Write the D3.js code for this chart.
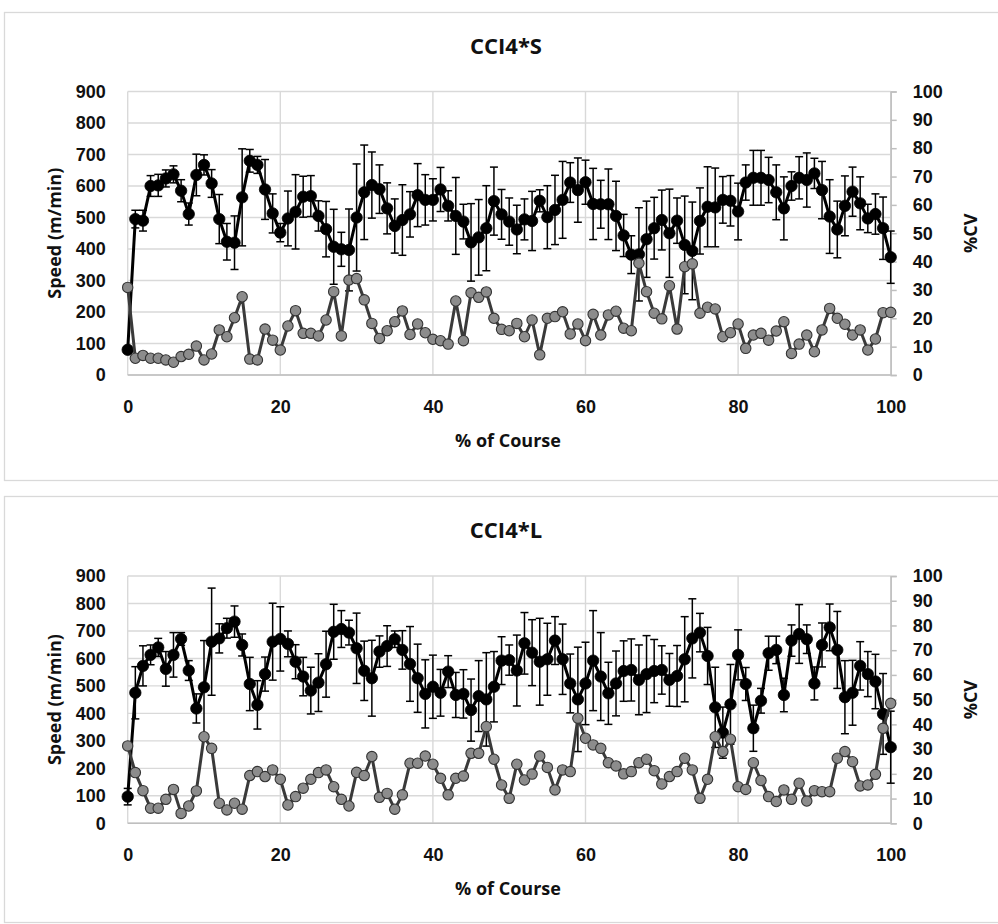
<!DOCTYPE html>
<html>
<head>
<meta charset="utf-8">
<script src="https://cdn.jsdelivr.net/npm/d3@7"></script>
<style>
  body { margin: 0; background: #fff; }
  svg { display: block; font-family: "Open Sans", "Noto Sans", sans-serif; }
  .tick text { font-size: 18px; font-weight: 700; fill: #111; }
  .lbl { font-size: 18px; font-weight: 700; fill: #111; }
  .title { font-size: 22px; font-weight: 700; fill: #111; }
</style>
</head>
<body>
<div id="chart"></div>
<script>
// % of course, one point per percent
const pct = d3.range(0, 101);
const speedTicks = [0, 100, 200, 300, 400, 500, 600, 700, 800, 900];
const cvTicks = [0, 10, 20, 30, 40, 50, 60, 70, 80, 90, 100];
const courseTicks = [0, 20, 40, 60, 80, 100];

// CCI4*S
const shortSpeed = [80,495,490,600,602,624,637,585,511,635,667,608,495,423,420,564,680,667,589,513,
  452,497,518,566,568,505,463,407,399,397,500,580,603,590,529,473,492,510,571,556,
  556,589,537,505,487,421,437,466,552,510,487,462,494,489,553,501,524,556,611,587,
  612,543,542,542,505,443,382,383,431,466,492,450,490,413,394,489,534,532,556,553,
  519,611,626,626,619,580,529,600,626,619,640,587,503,462,537,582,545,497,511,466,374];
const shortErr = [10,28,33,33,35,27,27,35,35,66,32,44,78,58,85,154,36,27,95,62,
  29,87,118,65,65,48,88,119,54,130,170,150,105,77,81,86,112,72,100,80,
  67,70,48,122,55,123,120,135,108,79,75,77,65,94,35,100,110,122,63,102,
  70,113,76,112,110,67,60,148,121,98,95,140,72,155,155,105,127,125,74,80,
  90,56,87,87,72,87,100,45,67,86,48,91,117,90,95,78,84,45,64,99,83];
const shortCV = [30.9,5.9,6.9,5.9,5.9,5.3,4.5,6.5,7.3,10.2,5.3,7.4,15.9,13.5,20.2,27.6,5.6,5.3,16.2,12.3,
  8.8,17.3,22.7,14.7,14.7,13.8,19.4,29.4,13.8,33.5,34.0,26.5,18.2,12.9,15.6,18.8,22.6,14.3,18.0,14.9,
  12.6,12.1,10.9,26.1,12.1,29.0,27.4,29.3,20.0,16.1,15.6,18.2,13.5,19.4,7.1,20.0,20.6,22.3,14.5,18.0,
  12.1,21.4,14.1,21.2,22.5,16.5,15.6,39.4,29.4,21.8,19.8,31.5,16.2,38.2,39.2,21.8,23.9,23.3,13.5,14.9,
  18.0,9.4,14.1,14.7,12.3,15.5,18.8,7.6,10.9,14.1,8.2,15.9,23.5,20.0,17.9,14.1,15.9,8.8,12.7,22.0,22.1];

// CCI4*L
const longSpeed = [97,475,573,613,640,562,613,671,556,418,495,661,673,710,734,649,507,431,543,661,
  671,653,588,534,483,512,579,697,707,694,637,555,528,625,645,670,631,580,528,471,
  497,475,552,467,471,412,463,451,497,592,594,556,655,621,588,597,665,597,509,451,
  509,592,534,473,509,554,558,522,543,554,558,522,536,597,673,694,609,422,330,433,
  613,507,346,446,619,631,467,665,689,670,509,649,713,631,459,475,573,543,516,398,277];
const longErr = [30,95,73,36,33,63,81,23,36,53,170,195,53,36,57,40,97,88,62,140,
  117,47,62,70,85,105,120,100,67,45,128,108,138,57,74,30,70,136,124,124,
  115,85,58,82,88,113,129,170,128,87,55,129,112,120,158,131,87,128,107,190,
  150,182,160,113,118,110,113,127,140,115,88,96,111,155,144,70,104,146,93,145,
  91,60,84,45,62,50,61,57,107,52,60,80,85,140,133,118,88,82,99,147,131];
const longCV = [31.3,20.5,13.2,6.1,6.1,9.7,13.7,4.0,7.0,13.1,35.0,30.3,8.1,5.4,8.1,5.7,19.3,20.9,18.9,21.6,
  17.8,7.4,10.8,14.2,17.8,20.5,21.6,14.8,9.7,7.0,20.6,19.3,27.0,10.5,12.1,5.7,11.5,24.3,24.3,27.2,
  23.9,18.2,11.5,18.2,19.1,28.3,28.3,39.1,25.9,15.5,10.1,23.9,17.5,19.9,27.2,22.6,13.5,21.6,20.9,42.5,
  34.4,31.7,30.3,24.5,23.2,20.0,20.9,24.5,25.9,21.3,15.9,18.9,20.9,26.3,21.6,10.1,17.8,35.0,29.0,34.0,
  14.8,13.7,24.5,17.3,10.8,8.8,13.5,9.7,16.2,9.0,13.2,12.8,12.8,26.3,29.0,24.9,15.1,15.5,19.8,38.4,48.5];

const W = 998, H = 924;
const svg = d3.select('#chart').append('svg').attr('width', W).attr('height', H);

function drawPanel(cfg) {
    const rows = pct.map(function(p, i) {
        return {x: p, speed: cfg.speed[i], err: cfg.err[i], cv: cfg.cv[i]};
    });

    const x = d3.scaleLinear().domain([0, 100]).range([127.7, 890.7]);
    const y = d3.scaleLinear().domain([0, 900]).range([cfg.bottom, cfg.top]);
    const yR = d3.scaleLinear().domain([0, 100]).range([cfg.bottom, cfg.top]);

    // chart frame
    svg.append('rect')
        .attr('x', 4.5).attr('y', cfg.frameY + 0.5)
        .attr('width', 1000).attr('height', cfg.frameH)
        .attr('fill', 'none').attr('stroke', '#d9d9d9').attr('stroke-width', 1.3);

    const g = svg.append('g');

    // GRIDLINES
    g.append('g').selectAll('line').data(speedTicks).enter().append('line')
        .attr('x1', x(0)).attr('x2', x(100))
        .attr('y1', d => y(d)).attr('y2', d => y(d))
        .attr('stroke', '#d9d9d9').attr('stroke-width', 1.4);
    g.append('g').selectAll('line').data(courseTicks).enter().append('line')
        .attr('x1', d => x(d)).attr('x2', d => x(d))
        .attr('y1', y(0)).attr('y2', y(900))
        .attr('stroke', '#d9d9d9').attr('stroke-width', 1.4);
    g.append('line')
        .attr('x1', x(0)).attr('x2', x(100)).attr('y1', y(0)).attr('y2', y(0))
        .attr('stroke', '#bfbfbf').attr('stroke-width', 1.5);

    // AXIS
    const yAxis = g.append('g').attr('transform', 'translate(' + x(0) + ',0)')
        .call(d3.axisLeft(y).tickValues(speedTicks).tickSize(0).tickPadding(22));
    yAxis.select('.domain').remove();

    const yAxisR = g.append('g').attr('transform', 'translate(' + x(100) + ',0)')
        .call(d3.axisRight(yR).tickValues(cvTicks).tickSize(6).tickPadding(16));
    yAxisR.select('.domain').attr('stroke', '#bfbfbf').attr('stroke-width', 1.5);
    yAxisR.selectAll('.tick line').attr('stroke', '#bfbfbf').attr('stroke-width', 1.5);

    const xAxis = g.append('g').attr('transform', 'translate(0,' + y(0) + ')')
        .call(d3.axisBottom(x).tickValues(courseTicks).tickSize(0).tickPadding(25));
    xAxis.select('.domain').remove();

    // TITLES
    svg.append('text').attr('class', 'title').attr('text-anchor', 'middle')
        .attr('x', 506).attr('y', cfg.titleY).text(cfg.title);
    svg.append('text').attr('class', 'lbl').attr('text-anchor', 'middle')
        .attr('x', 508).attr('y', y(0) + 72).text('% of Course');
    svg.append('text').attr('class', 'lbl').attr('text-anchor', 'middle')
        .attr('transform', 'translate(61,' + ((y(0) + y(900)) / 2) + ') rotate(-90)')
        .text('Speed (m/min)');
    svg.append('text').attr('class', 'lbl').attr('text-anchor', 'middle')
        .attr('transform', 'translate(977,' + ((y(0) + y(900)) / 2) + ') rotate(-90)')
        .text('%CV');

    // ERROR BARS
    const eb = g.append('g').selectAll('g').data(rows).enter().append('g')
        .attr('stroke', '#000').attr('stroke-width', 1.5);
    eb.append('line')
        .attr('x1', d => x(d.x)).attr('x2', d => x(d.x))
        .attr('y1', d => y(d.speed + d.err)).attr('y2', d => y(d.speed - d.err));
    eb.append('line')
        .attr('x1', d => x(d.x) - 4).attr('x2', d => x(d.x) + 4)
        .attr('y1', d => y(d.speed + d.err)).attr('y2', d => y(d.speed + d.err));
    eb.append('line')
        .attr('x1', d => x(d.x) - 4).attr('x2', d => x(d.x) + 4)
        .attr('y1', d => y(d.speed - d.err)).attr('y2', d => y(d.speed - d.err));

    // SPEED LINE
    const speedLine = d3.line().x(d => x(d.x)).y(d => y(d.speed));
    g.append('path').datum(rows).attr('d', speedLine)
        .attr('fill', 'none').attr('stroke', '#000').attr('stroke-width', 3)
        .attr('stroke-linejoin', 'round');
    g.append('g').selectAll('circle').data(rows).enter().append('circle')
        .attr('cx', d => x(d.x)).attr('cy', d => y(d.speed)).attr('r', 5.7)
        .attr('fill', '#000').attr('stroke', '#000').attr('stroke-width', 0.8);

    // CV LINE
    const cvLine = d3.line().x(d => x(d.x)).y(d => yR(d.cv));
    g.append('path').datum(rows).attr('d', cvLine)
        .attr('fill', 'none').attr('stroke', '#3a3a3a').attr('stroke-width', 3)
        .attr('stroke-linejoin', 'round');
    g.append('g').selectAll('circle').data(rows).enter().append('circle')
        .attr('cx', d => x(d.x)).attr('cy', d => yR(d.cv)).attr('r', 5.2)
        .attr('fill', '#8c8c8c').attr('stroke', '#333').attr('stroke-width', 1.1);
}

drawPanel({title: 'CCI4*S', speed: shortSpeed, err: shortErr, cv: shortCV,
    top: 91.5, bottom: 375, frameY: 12, frameH: 468, titleY: 54});
drawPanel({title: 'CCI4*L', speed: longSpeed, err: longErr, cv: longCV,
    top: 576, bottom: 823.3, frameY: 496, frameH: 426, titleY: 538});
</script>
</body>
</html>
